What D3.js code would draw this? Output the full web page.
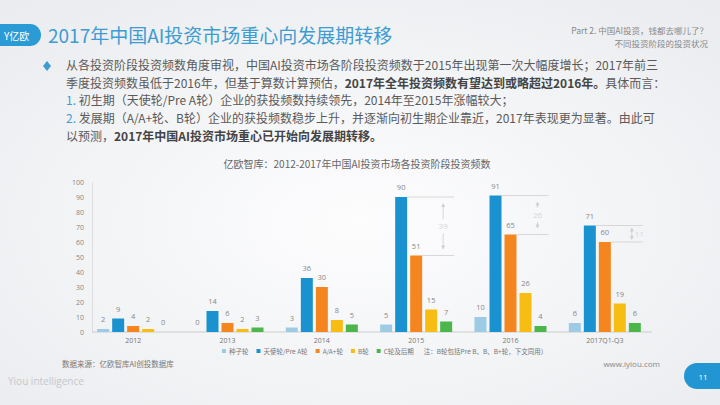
<!DOCTYPE html>
<html>
<head>
<meta charset="utf-8">
<title>2017年中国AI投资市场重心向发展期转移</title>
<script src="https://cdn.jsdelivr.net/npm/d3@7"></script>
<style>
  body { margin: 0; }
  svg { display: block; font-family: "Noto Sans CJK SC", "Noto Sans", sans-serif; }
</style>
</head>
<body>
<svg id="svg"></svg>
<script>
// data
var years = ["2012", "2013", "2014", "2015", "2016", "2017Q1-Q3"];
var stages = ["种子轮", "天使轮/Pre A轮", "A/A+轮", "B轮", "C轮及后期"];
var seed = [2, 0, 3, 5, 10, 6];
var angel = [9, 14, 36, 90, 91, 71];
var roundA = [4, 6, 30, 51, 65, 60];
var roundB = [2, 2, 8, 15, 26, 19];
var roundC = [0, 3, 5, 7, 4, 6];
var yTicks = [0, 10, 20, 30, 40, 50, 60, 70, 80, 90, 100];
// gap between 天使轮 and A轮 shown for the last three years
var gapYears = ["2015", "2016", "2017Q1-Q3"];

var colors = ["#9dcbe6", "#1a92d0", "#f5861f", "#f8bd13", "#4bb64a"];
var series = [seed, angel, roundA, roundB, roundC];

var width = 720, height = 405;
var svg = d3.select("#svg").attr("width", width).attr("height", height);

// background
var defs = svg.append("defs");
var bg = defs.append("radialGradient").attr("id", "bg")
    .attr("cx", "50%").attr("cy", "55%").attr("r", "75%");
bg.append("stop").attr("offset", "0%").attr("stop-color", "#fdfdfe");
bg.append("stop").attr("offset", "100%").attr("stop-color", "#e9ebee");
svg.append("rect").attr("width", width).attr("height", height).attr("fill", "url(#bg)");

// header
svg.append("path")
    .attr("d", "M0,24 H30 A11,11 0 0 1 30,46 H0 Z")
    .attr("fill", "#2a9bd5");
svg.append("text").attr("x", 4).attr("y", 40)
    .attr("font-size", 10).attr("fill", "#fff")
    .text("Y亿欧");
svg.append("text").attr("x", 48).attr("y", 43)
    .attr("font-size", 19).attr("fill", "#3d9cd2")
    .text("2017年中国AI投资市场重心向发展期转移");
svg.append("text").attr("x", 708).attr("y", 34)
    .attr("text-anchor", "end").attr("font-size", 8.5).attr("fill", "#888")
    .text("Part 2. 中国AI投资，钱都去哪儿了？");
svg.append("text").attr("x", 708).attr("y", 47)
    .attr("text-anchor", "end").attr("font-size", 8.5).attr("fill", "#888")
    .text("不同投资阶段的投资状况");

// body text
svg.append("path").attr("d", "M47,61 L51,66 L47,71 L43,66 Z").attr("fill", "#3d9cd2");
var lines = [
  [["从各投资阶段投资频数角度审视，中国AI投资市场各阶段投资频数于2015年出现第一次大幅度增长；2017年前三", 0]],
  [["季度投资频数虽低于2016年，但基于算数计算预估，", 0], ["2017年全年投资频数有望达到或略超过2016年。", 1], ["具体而言：", 0]],
  [["1.", 2], [" 初生期（天使轮/Pre A轮）企业的获投频数持续领先，2014年至2015年涨幅较大；", 0]],
  [["2.", 2], [" 发展期（A/A+轮、B轮）企业的获投频数稳步上升，并逐渐向初生期企业靠近，2017年表现更为显著。由此可", 0]],
  [["以预测，", 0], ["2017年中国AI投资市场重心已开始向发展期转移。", 1]]
];
lines.forEach(function(parts, i) {
  var t = svg.append("text").attr("x", 66).attr("y", 70 + i * 17.7)
      .attr("font-size", 12).attr("fill", "#5a5a5a");
  parts.forEach(function(p) {
    t.append("tspan").text(p[0])
      .attr("font-weight", p[1] == 1 ? "bold" : null)
      .attr("fill", p[1] == 2 ? "#3d9cd2" : (p[1] == 1 ? "#444" : null));
  });
});

// chart
svg.append("text").attr("x", 357).attr("y", 168)
    .attr("text-anchor", "middle").attr("font-size", 10).attr("fill", "#666")
    .text("亿欧智库：2012-2017年中国AI投资市场各投资阶段投资频数");

var x0 = d3.scaleBand().domain(years).range([86, 652]);
var x1 = d3.scaleBand().domain(stages).range([0, 72]).paddingInner(0.2);
var y = d3.scaleLinear().domain([0, 100]).range([332, 182]);

var yAxis = d3.axisLeft(y).tickValues(yTicks).tickSize(0).tickPadding(8);
var gy = svg.append("g").attr("transform", "translate(92,0)").call(yAxis);
gy.select(".domain").attr("stroke", "#ddd");
gy.selectAll("text").attr("font-size", 7).attr("fill", "#888").attr("font-family", "Open Sans");

var xAxis = d3.axisBottom(x0).tickSize(0).tickPadding(6);
var gx = svg.append("g").attr("transform", "translate(0,332)").call(xAxis);
gx.select(".domain").attr("stroke", "#ccc").attr("d", "M92,0H652");
gx.selectAll("text").attr("font-size", 7).attr("fill", "#777").attr("font-family", "Open Sans");

var groups = svg.selectAll(".grp").data(years).enter().append("g")
    .attr("class", "grp")
    .attr("transform", function(d) {
      return "translate(" + (x0(d) + x0.bandwidth() / 2 - 36) + ",0)";
    });

stages.forEach(function(s, k) {
  groups.append("rect")
      .attr("x", x1(s))
      .attr("y", function(d, i) { return y(series[k][i]); })
      .attr("width", x1.bandwidth())
      .attr("height", function(d, i) { return y(0) - y(series[k][i]); })
      .attr("fill", colors[k]);
  groups.append("text")
      .attr("x", x1(s) + x1.bandwidth() / 2)
      .attr("y", function(d, i) { return y(series[k][i]) - 7; })
      .attr("text-anchor", "middle")
      .attr("font-size", 7.5).attr("fill", "#888").attr("font-family", "Open Sans")
      .text(function(d, i) { return series[k][i]; });
});

// gap annotations
gapYears.forEach(function(yr) {
  var i = years.indexOf(yr);
  var gx0 = x0(yr) + x0.bandwidth() / 2 - 36;
  var a = angel[i], b = roundA[i];
  var xEnd = gx0 + 72 + 2;
  var xa = gx0 + x1(stages[1]) + x1.bandwidth();
  var xb = gx0 + x1(stages[2]) + x1.bandwidth();
  var g = svg.append("g").attr("stroke", "#cfcfcf").attr("stroke-width", 0.8);
  g.append("line").attr("x1", xa).attr("x2", xEnd).attr("y1", y(a)).attr("y2", y(a));
  g.append("line").attr("x1", xb).attr("x2", xEnd).attr("y1", y(b)).attr("y2", y(b));
  var ax = xEnd - 11;
  var mid = (y(a) + y(b)) / 2;
  var small = (y(b) - y(a)) < 30;
  var top = y(a) + (small ? 3 : 7), bot = y(b) - (small ? 3 : 7);
  if (small) {
    g.append("line").attr("x1", ax).attr("x2", ax).attr("y1", top).attr("y2", bot);
  } else {
    g.append("line").attr("x1", ax).attr("x2", ax).attr("y1", top).attr("y2", mid - 7);
    g.append("line").attr("x1", ax).attr("x2", ax).attr("y1", mid + 7).attr("y2", bot);
  }
  g.append("path").attr("stroke", "none").attr("fill", "#cfcfcf")
      .attr("d", "M" + (ax - 2) + "," + (top + 3) + "L" + ax + "," + (top - 1) + "L" + (ax + 2) + "," + (top + 3) + "Z");
  g.append("path").attr("stroke", "none").attr("fill", "#cfcfcf")
      .attr("d", "M" + (ax - 2) + "," + (bot - 3) + "L" + ax + "," + (bot + 1) + "L" + (ax + 2) + "," + (bot - 3) + "Z");
  svg.append("text").attr("x", small ? ax + 3 : ax).attr("y", mid + 3)
      .attr("text-anchor", small ? "start" : "middle").attr("font-size", 8).attr("fill", "#d6d6d6")
      .attr("font-family", "Open Sans")
      .text(a - b);
});

// legend
var legend = svg.append("g").attr("transform", "translate(222,353)");
var lx = 0;
stages.forEach(function(s, k) {
  legend.append("rect").attr("x", lx).attr("y", -4).attr("width", 4).attr("height", 4).attr("fill", colors[k]);
  var t = legend.append("text").attr("x", lx + 7).attr("y", 0.5)
      .attr("font-size", 6.5).attr("fill", "#777").text(s);
  lx += 7 + t.node().getComputedTextLength() + 8;
});
legend.append("text").attr("x", lx + 2).attr("y", 0.5)
    .attr("font-size", 6.5).attr("fill", "#777")
    .text("注：B轮包括Pre B、B、B+轮，下文同用）");

// footer
svg.append("text").attr("x", 62).attr("y", 367)
    .attr("font-size", 7.5).attr("fill", "#777")
    .text("数据来源：亿欧智库AI创投数据库");
svg.append("text").attr("x", 660).attr("y", 367)
    .attr("text-anchor", "end").attr("font-size", 8).attr("fill", "#888").attr("font-family", "Open Sans")
    .text("www.iyiou.com");
svg.append("text").attr("x", 8).attr("y", 385)
    .attr("font-size", 10).attr("fill", "#c4c8cc").attr("font-family", "Open Sans")
    .text("Yiou intelligence");
svg.append("path")
    .attr("d", "M720,363 H697 A13,13 0 0 0 697,389 H720 Z")
    .attr("fill", "#2196d3");
svg.append("text").attr("x", 703).attr("y", 380)
    .attr("text-anchor", "middle").attr("font-size", 8).attr("fill", "#fff").attr("font-family", "Open Sans")
    .text("11");
</script>
</body>
</html>
